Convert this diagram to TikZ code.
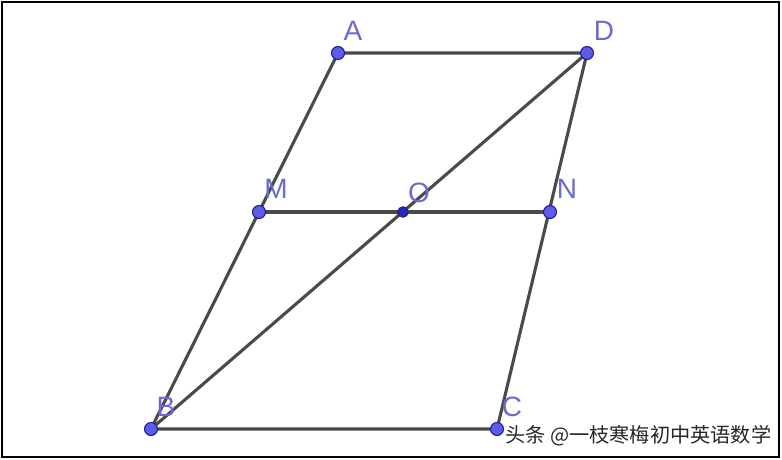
\documentclass[tikz,border=0pt]{standalone}
\usepackage{fontspec}
\setmainfont{Liberation Sans}
\newfontfamily\cjk{Noto Sans CJK SC}
\definecolor{segc}{HTML}{4A4A4A}
\definecolor{ptfill}{HTML}{5C5CE6}
\definecolor{ptdark}{HTML}{1A1A9E}
\definecolor{lblc}{HTML}{6A6AD0}
\definecolor{ofill}{HTML}{2828B8}
\begin{document}
\begin{tikzpicture}[x=1pt,y=-1pt,
  seg/.style={draw=segc,line width=3.1pt},
  pt/.style={circle,fill=ptfill,draw=ptdark,line width=1pt,inner sep=0pt,minimum size=13pt},
  opt/.style={circle,fill=ofill,draw=ptdark,line width=1pt,inner sep=0pt,minimum size=10.5pt},
  lbl/.style={text=lblc,font=\fontsize{28}{28}\selectfont,inner sep=0pt}]
\useasboundingbox (0,0) rectangle (782,460);
\draw[line width=2pt,black] (2,2) rectangle (779,457);
\coordinate (A) at (338,53);
\coordinate (D) at (587,53);
\coordinate (M) at (259,212);
\coordinate (O) at (403,212);
\coordinate (N) at (550,212);
\coordinate (B) at (151,429);
\coordinate (C) at (497,429);
\draw[seg] (A) -- (D) -- (C) -- (B) -- (A);
\draw[seg] (B) -- (D);
\draw[seg] (M) -- (N);
\node[pt] (pA) at (A) {};
\node[pt] (pD) at (D) {};
\node[pt] (pM) at (M) {};
\node[pt] (pN) at (N) {};
\node[pt] (pB) at (B) {};
\node[pt] (pC) at (C) {};
\node[opt] (pO) at (O) {};
\node[lbl] (lA) at (353,31) {A};
\node[lbl] (lD) at (604,31) {D};
\node[lbl] (lM) at (276,189) {M};
\node[lbl] (lO) at (419,193) {O};
\node[lbl] (lN) at (567,189) {N};
\node[lbl] (lB) at (166,407) {B};
\node[lbl] (lC) at (512,407) {C};
\node[anchor=west,inner sep=0pt,font=\cjk\fontsize{20.2}{21}\selectfont,text=black!85] (wm) at (505,436) {头条 @一枝寒梅初中英语数学};
\end{tikzpicture}
\end{document}
